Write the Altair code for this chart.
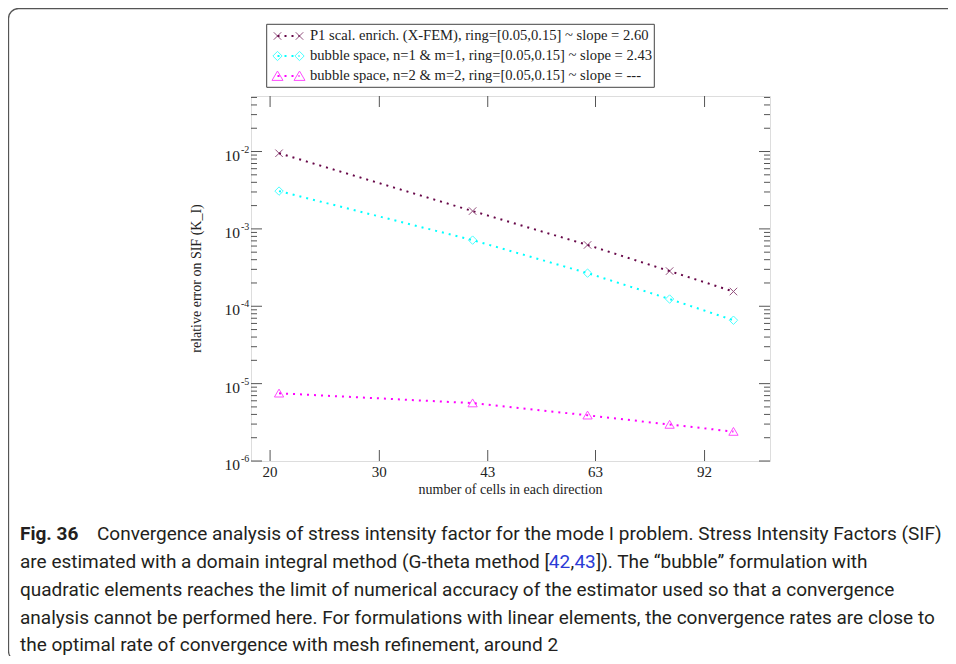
import altair as alt
import pandas as pd

# ---------------- data ----------------
cells = [21, 41, 61, 81, 101]
err_xfem = [9.5e-3, 1.70e-3, 6.2e-4, 2.85e-4, 1.55e-4]
err_bub1 = [3.08e-3, 7.16e-4, 2.68e-4, 1.24e-4, 6.6e-5]
err_bub2 = [7.5e-6, 5.6e-6, 3.9e-6, 2.96e-6, 2.4e-6]
series_names = [
    "P1 scal. enrich. (X-FEM), ring=[0.05,0.15] ~ slope = 2.60",
    "bubble space, n=1 & m=1, ring=[0.05,0.15] ~ slope = 2.43",
    "bubble space, n=2 & m=2, ring=[0.05,0.15] ~ slope = ---",
]
series_colors = ["#670748", "#00ffff", "#ff00ff"]
series_shapes = [
    "M-1,-1L1,1M-1,1L1,-1",
    "M-1,0L0,-1L1,0L0,1Z",
    "M-1,0.8L1,0.8L0,-0.9Z",
]
shape_sizes = [56, 86, 121]

x_tick_values = [20.36, 29.7, 43.2, 62.7, 91.4]
x_tick_labels = ["20", "30", "43", "63", "92"]
y_decades = [1e-6, 1e-5, 1e-4, 1e-3, 1e-2]
y_exponents = ["-6", "-5", "-4", "-3", "-2"]

x_title = "number of cells in each direction"
y_title = "relative error on SIF (K_I)"

caption_bold = "Fig. 36"
caption_line1 = "Convergence analysis of stress intensity factor for the mode I problem. Stress Intensity Factors (SIF)"
# line 2 split so that the references can be coloured as links
caption_line2 = [
    ("are estimated with a domain integral method (G-theta method [", "#231f20"),
    ("42", "#2b3bd6"),
    (",", "#231f20"),
    ("43", "#2b3bd6"),
    ("]). The \u201cbubble\u201d formulation with", "#231f20"),
]
caption_rest = [
    "quadratic elements reaches the limit of numerical accuracy of the estimator used so that a convergence",
    "analysis cannot be performed here. For formulations with linear elements, the convergence rates are close to",
    "the optimal rate of convergence with mesh refinement, around 2",
]

# ---------------- layout ----------------
W, H = 519, 365
PAD_L, PAD_T = 243, 88
SVG_W, SVG_H = 940, 648
X_DOMAIN = [19.06, 114.6]
Y_DOMAIN = [1e-6, 0.0522]
SERIF = "Liberation Serif"
CAP_FONT = "Roboto"
CAP_SIZE = 19
AXC = "#555555"

rows = []
for name, ys in zip(series_names, [err_xfem, err_bub1, err_bub2]):
    for c, e in zip(cells, ys):
        rows.append({"cells": c, "err": e, "series": name})
df = pd.DataFrame(rows)

xs = alt.Scale(type="log", domain=X_DOMAIN, nice=False)
ys_ = alt.Scale(type="log", domain=Y_DOMAIN, nice=False)
X = alt.X("cells:Q", scale=xs, axis=None)
Y = alt.Y("err:Q", scale=ys_, axis=None)
col = alt.Color("series:N", scale=alt.Scale(domain=series_names, range=series_colors), legend=None)

lines = alt.Chart(df).mark_line(strokeDash=[2, 5], strokeWidth=2).encode(x=X, y=Y, color=col)
pts = alt.Chart(df).mark_point(filled=False, strokeWidth=1).encode(
    x=X, y=Y, color=col,
    shape=alt.Shape("series:N", scale=alt.Scale(domain=series_names, range=series_shapes), legend=None),
    size=alt.Size("series:N", scale=alt.Scale(domain=series_names, range=shape_sizes), legend=None),
)

# ticks
minor = [k * d for d in y_decades for k in range(2, 10) if k * d <= Y_DOMAIN[1]]
ymaj = pd.DataFrame({"err": y_decades, "ex": y_exponents})
ymin = pd.DataFrame({"err": minor})
xt = pd.DataFrame({"cells": x_tick_values, "lab": x_tick_labels})

def yticks(d, length):
    a = alt.Chart(d).mark_rule(color=AXC, strokeWidth=1).encode(y=Y, x=alt.value(0), x2=alt.value(length))
    b = alt.Chart(d).mark_rule(color=AXC, strokeWidth=1).encode(y=Y, x=alt.value(W), x2=alt.value(W - length))
    return [a, b]

tick_layers = yticks(ymaj, 11) + yticks(ymin, 6)
tick_layers.append(alt.Chart(xt).mark_rule(color=AXC, strokeWidth=1).encode(x=X, y=alt.value(H), y2=alt.value(H - 11)))
tick_layers.append(alt.Chart(xt).mark_rule(color=AXC, strokeWidth=1).encode(x=X, y=alt.value(0), y2=alt.value(11)))

ylab10 = alt.Chart(ymaj).mark_text(font=SERIF, fontSize=15.5, align="right", baseline="middle", dy=4, color="#222").encode(
    y=Y, x=alt.value(-11), text=alt.value("10"))
ylabex = alt.Chart(ymaj).mark_text(font=SERIF, fontSize=10, align="left", baseline="middle", dy=-2, color="#222").encode(
    y=Y, x=alt.value(-10), text="ex:N")
xlab = alt.Chart(xt).mark_text(font=SERIF, fontSize=15, align="center", baseline="middle", color="#222").encode(
    x=X, y=alt.value(H + 11), text="lab:N")

one = pd.DataFrame({"a": [0]})

def txt(t, x, y, **kw):
    return alt.Chart(one).mark_text(**kw).encode(x=alt.value(x), y=alt.value(y), text=alt.value(t))

xtitle = txt(x_title, W / 2, H + 29, font=SERIF, fontSize=14, align="center", baseline="middle", color="#222")
ytitle = txt(y_title, -54, H / 2, font=SERIF, fontSize=14, align="center", baseline="middle", angle=270, color="#222")

# legend
leg_box = alt.Chart(one).mark_rect(fillOpacity=0, stroke="#444", strokeWidth=1).encode(
    x=alt.value(15.7), x2=alt.value(403.3), y=alt.value(-71.7), y2=alt.value(-8.7))
leg_layers = [leg_box]
leg_rows = [-60, -40, -20]
for name, c, s, sz, ry in zip(series_names, series_colors, series_shapes, shape_sizes, leg_rows):
    leg_layers.append(alt.Chart(one).mark_rule(color=c, strokeDash=[2, 5], strokeWidth=2).encode(
        x=alt.value(26.5), x2=alt.value(48.5), y=alt.value(ry)))
    for mx in (26.5, 48.5):
        leg_layers.append(alt.Chart(one).mark_point(shape=s, size=sz, color=c, filled=False, strokeWidth=1).encode(
            x=alt.value(mx), y=alt.value(ry)))
    leg_layers.append(txt(name, 59, ry, font=SERIF, fontSize=14.6, align="left", baseline="middle", color="#222"))

# caption
CAP_X = -231
cap_y = [438, 466, 494, 522, 549]
ckw = dict(font=CAP_FONT, fontSize=CAP_SIZE, align="left", baseline="middle")
cap_layers = [
    txt(caption_bold, CAP_X, cap_y[0], fontWeight="bold", color="#231f20", **ckw),
    txt(caption_line1, -154, cap_y[0], color="#231f20", **ckw),
]
# approximate advance widths (em) for chaining the pieces of line 2
seg_em = [27.275, 1.123, 0.197, 1.123]
EMPX = CAP_SIZE * 1.0204
sx = CAP_X
for i, (seg, c) in enumerate(caption_line2):
    cap_layers.append(txt(seg, sx, cap_y[1], color=c, **ckw))
    if i < len(seg_em):
        sx += seg_em[i] * EMPX
for line, cy in zip(caption_rest, cap_y[2:]):
    cap_layers.append(txt(line, CAP_X, cy, color="#231f20", **ckw))

border = alt.Chart(one).mark_rect(fillOpacity=0, stroke="#555", strokeWidth=1.3, cornerRadius=10).encode(
    x=alt.value(-242.5), x2=alt.value(720), y=alt.value(-87.5), y2=alt.value(565))

chart = alt.layer(
    border, *tick_layers, lines, pts, ylab10, ylabex, xlab, xtitle, ytitle, *leg_layers, *cap_layers
).properties(
    width=W, height=H,
    autosize=alt.AutoSizeParams(type="none"),
    padding={"left": PAD_L, "top": PAD_T, "right": SVG_W - PAD_L - W, "bottom": SVG_H - PAD_T - H},
).configure_view(stroke=AXC, strokeWidth=1.3).configure(background="white")

chart.save("out.html", embed_options={"renderer": "svg", "actions": False})
